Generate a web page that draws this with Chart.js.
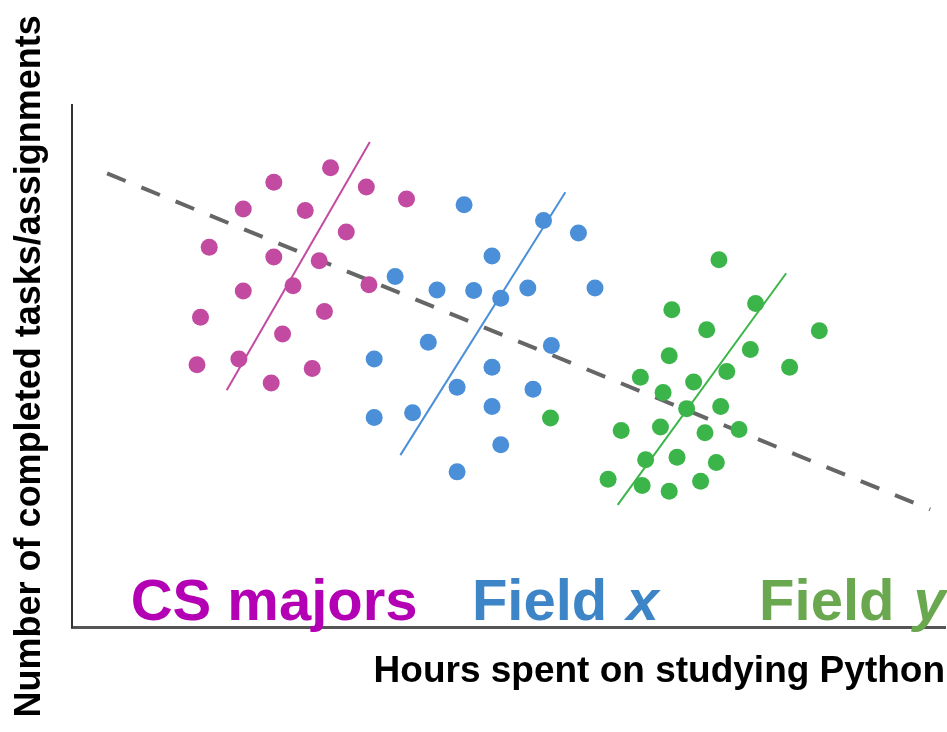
<!DOCTYPE html>
<html>
<head>
<meta charset="utf-8">
<script src="https://cdn.jsdelivr.net/npm/chart.js@4.4.1/dist/chart.umd.min.js"></script>
<style>
  html, body { margin: 0; padding: 0; background: #fff; }
  #wrap { width: 947px; height: 732px; }
</style>
</head>
<body>
<div id="wrap"><canvas id="chart"></canvas></div>
<script>
// scatter values (arbitrary 0-100 units)
const csX = [29.6, 23.1, 33.7, 38.3, 19.6, 26.7, 31.4, 15.7, 23.1, 28.3, 19.6, 25.3, 34.0, 14.7, 28.9, 24.1, 14.3, 19.1, 27.5, 22.8];
const csY = [88.0, 85.2, 84.3, 82.0, 80.1, 79.8, 75.7, 72.8, 70.9, 70.2, 64.4, 65.4, 65.6, 59.4, 60.5, 56.2, 50.3, 51.4, 49.6, 46.8];

const fxX = [44.9, 54.0, 58.0, 48.1, 37.0, 41.8, 46.0, 49.1, 52.2, 59.9, 40.8, 54.9, 34.6, 48.1, 44.1, 52.8, 34.6, 39.0, 48.1, 49.1, 44.1];
const fxY = [80.9, 77.9, 75.5, 71.1, 67.2, 64.6, 64.5, 63.0, 65.0, 65.0, 54.6, 54.0, 51.4, 49.8, 46.0, 45.6, 40.2, 41.1, 42.3, 35.0, 29.8];

const fyX = [74.1, 78.3, 68.7, 85.6, 72.7, 77.7, 68.4, 82.2, 75.0, 65.1, 71.2, 67.7, 70.4, 74.3, 62.9, 67.4, 72.5, 76.4, 65.7, 69.3, 73.8, 61.4, 65.3, 68.4, 72.0, 54.8];
const fyY = [70.4, 62.0, 60.8, 56.8, 57.0, 53.2, 52.0, 49.8, 49.0, 47.9, 47.0, 45.0, 41.9, 42.3, 37.7, 38.4, 37.3, 37.9, 32.1, 32.6, 31.6, 28.4, 27.2, 26.1, 28.0, 40.1];

// trend lines: [x1, x2], [y1, y2]
const csLineX = [17.7, 34.1], csLineY = [45.4, 92.9];
const fxLineX = [37.6, 56.5], fxLineY = [33.0, 83.3];
const fyLineX = [62.5, 81.8], fyLineY = [23.5, 67.8];
const allLineX = [4.0, 98.3], allLineY = [86.9, 22.6];

// group labels
const groupNames = ['CS majors', 'Field ', 'Field '];
const groupVars = ['', 'x', 'y'];
const groupLabelX = [6.7, 45.8, 78.7];
const groupLabelY = 1.5;

const dotColors = ['#c24aa1', '#4a8fd8', '#3bb54a'];
const textColors = ['#b400b4', '#3d85c6', '#6aa84f'];

const toPoints = (xs, ys) => xs.map((x, i) => ({ x: x, y: ys[i] }));

const dotSet = (xs, ys, color) => ({
  data: toPoints(xs, ys),
  backgroundColor: color,
  borderWidth: 0,
  pointRadius: 8.5,
  pointHoverRadius: 8.5,
  order: 2
});

const lineSet = (xs, ys, color) => ({
  data: toPoints(xs, ys),
  showLine: true,
  borderColor: color,
  borderWidth: 2,
  pointRadius: 0,
  order: 1
});

// draws the "CS majors / Field x / Field y" labels at data positions
const groupLabels = {
  id: 'groupLabels',
  afterDatasetsDraw(chart) {
    const { ctx, scales } = chart;
    ctx.save();
    ctx.textBaseline = 'alphabetic';
    const y = scales.y.getPixelForValue(groupLabelY);
    groupNames.forEach((name, i) => {
      let x = scales.x.getPixelForValue(groupLabelX[i]);
      ctx.fillStyle = textColors[i];
      ctx.font = 'bold 58px "Liberation Sans", Arial, sans-serif';
      ctx.fillText(name, x, y);
      if (groupVars[i]) {
        x += ctx.measureText(name).width + 3;
        ctx.font = 'italic bold 58px "Liberation Sans", Arial, sans-serif';
        ctx.fillText(groupVars[i], x, y);
      }
    });
    ctx.restore();
  }
};

new Chart(document.getElementById('chart'), {
  type: 'scatter',
  data: {
    datasets: [
      lineSet(csLineX, csLineY, dotColors[0]),
      lineSet(fxLineX, fxLineY, dotColors[1]),
      lineSet(fyLineX, fyLineY, dotColors[2]),
      dotSet(csX, csY, dotColors[0]),
      dotSet(fxX, fxY, dotColors[1]),
      dotSet(fyX, fyY, dotColors[2]),
      {
        data: toPoints(allLineX, allLineY),
        showLine: true,
        borderColor: '#666666',
        borderWidth: 4,
        borderDash: [20, 17],
        pointRadius: 0,
        order: 3
      }
    ]
  },
  options: {
    responsive: true,
    maintainAspectRatio: false,
    animation: false,
    layout: { autoPadding: false, padding: { top: 105, right: 2, left: 0, bottom: 0 } },
    plugins: {
      legend: { display: false },
      tooltip: { enabled: false }
    },
    scales: {
      x: {
        min: 0,
        max: 100,
        grid: { display: false, drawTicks: false },
        ticks: { display: false },
        border: { display: true, color: '#555', width: 3 },
        title: {
          display: true,
          text: 'Hours spent on studying Python',
          align: 'end',
          color: '#000',
          font: { family: '"Liberation Sans", Arial, sans-serif', size: 37, weight: 'bold' },
          padding: { top: 22, bottom: 38 }
        }
      },
      y: {
        min: 0,
        max: 100,
        grid: { display: false, drawTicks: false },
        ticks: { display: false },
        border: { display: true, color: '#333', width: 2 },
        title: {
          display: true,
          text: 'Number of completed tasks/assignments',
          color: '#000',
          font: { family: '"Liberation Sans", Arial, sans-serif', size: 36, weight: 'bold' },
          padding: { top: 8, bottom: 21 }
        }
      }
    }
  },
  plugins: [groupLabels]
});
</script>
</body>
</html>
